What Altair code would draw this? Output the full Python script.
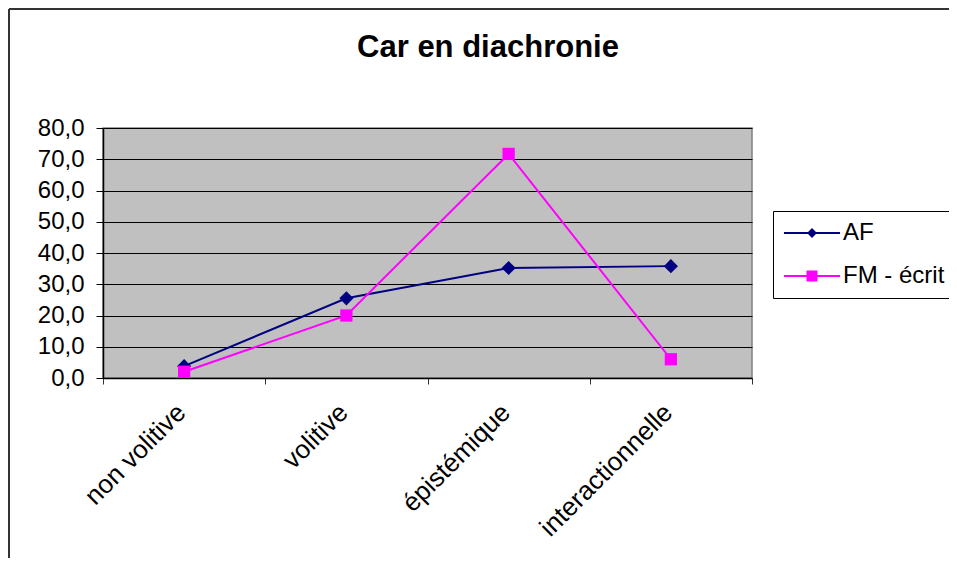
import altair as alt
import pandas as pd

categories = ["non volitive", "volitive", "épistémique", "interactionnelle"]
af_values = [3.8, 25.5, 35.2, 35.8]
fm_values = [2.0, 20.0, 71.7, 6.0]
series_names = ["AF", "FM - écrit"]
series_colors = ["#000080", "#FF00FF"]
y_ticks = [0, 10, 20, 30, 40, 50, 60, 70, 80]
title_text = "Car en diachronie"

rows = []
for c, v in zip(categories, af_values):
    rows.append({"cat": c, "val": v, "series": series_names[0]})
for c, v in zip(categories, fm_values):
    rows.append({"cat": c, "val": v, "series": series_names[1]})
df = pd.DataFrame(rows)

FONT = "Liberation Sans"

x_enc = alt.X(
    "cat:N",
    sort=categories,
    scale=alt.Scale(type="band", domain=categories, paddingInner=0, paddingOuter=0),
    axis=alt.Axis(
        title=None,
        labelAngle=-45,
        labelAlign="right",
        labelBaseline="middle",
        labelFont=FONT,
        labelFontSize=26,
        labelColor="black",
        labelPadding=24,
        labelOffset=-3,
        tickBand="extent",
        tickSize=6,
        tickColor="#333333",
        domainColor="black",
        domainWidth=1.5,
        grid=False,
    ),
)
y_enc = alt.Y(
    "val:Q",
    scale=alt.Scale(domain=[0, 80], nice=False),
    axis=alt.Axis(
        title=None,
        values=y_ticks,
        labelExpr="replace(format(datum.value, '.1f'), '.', ',')",
        labelFont=FONT,
        labelFontSize=24,
        labelColor="black",
        labelPadding=12,
        tickSize=7,
        tickColor="black",
        domainColor="black",
        domainWidth=1.5,
        grid=True,
        gridColor="black",
        gridWidth=1,
    ),
)

color_scale = alt.Scale(domain=series_names, range=series_colors)

# legend symbols: a 2px line with the marker in the middle (filled shapes only)
path_af = "M-2.55,-0.09L2.55,-0.09L2.55,0.09L-2.55,0.09ZM0,-0.45L0.45,0L0,0.45L-0.45,0Z"
path_fm = "M-2.55,-0.09L2.55,-0.09L2.55,0.09L-2.55,0.09ZM-0.5,-0.5L0.5,-0.5L0.5,0.5L-0.5,0.5Z"

legend = alt.Legend(
    title=None,
    orient="none",
    legendX=670,
    legendY=83,
    strokeColor="black",
    fillColor="white",
    padding=10,
    symbolSize=484,
    symbolOffset=17,
    symbolStrokeWidth=0,
    symbolOpacity=1,
    rowPadding=19,
    labelOffset=19,
    labelFont=FONT,
    labelFontSize=24,
    labelColor="black",
)

base = alt.Chart(df)


def series_layers(name, color, shape, size):
    sub = base.transform_filter(alt.datum.series == name)
    ln = sub.mark_line(strokeWidth=2, color=color).encode(x=x_enc, y=y_enc)
    pt = sub.mark_point(filled=True, opacity=1, shape=shape, size=size, color=color).encode(x=x_enc, y=y_enc)
    return ln, pt


ln_af, pt_af = series_layers(series_names[0], series_colors[0], "diamond", 200)
ln_fm, pt_fm = series_layers(series_names[1], series_colors[1], "square", 150)

legend_layer = base.mark_point(filled=True, opacity=0).encode(
    x=x_enc,
    y=y_enc,
    color=alt.Color("series:N", scale=color_scale, legend=legend),
    shape=alt.Shape("series:N", scale=alt.Scale(domain=series_names, range=[path_af, path_fm]), legend=legend),
)

one = alt.Data(values=[{"k": 1}])
frame_left = alt.Chart(one).mark_rule(color="#333333", strokeWidth=2, clip=False).encode(
    x=alt.value(-94), y=alt.value(-119), y2=alt.value(440)
)
frame_top = alt.Chart(one).mark_rule(color="#333333", strokeWidth=2, clip=False).encode(
    x=alt.value(-94), x2=alt.value(860), y=alt.value(-119)
)
title = alt.Chart(one).mark_text(
    text=title_text, font=FONT, fontSize=31, fontWeight="bold", color="black",
    align="center", baseline="alphabetic", clip=False
).encode(x=alt.value(385), y=alt.value(-71))

chart = (
    alt.layer(ln_af, ln_fm, pt_af, pt_fm, legend_layer, frame_left, frame_top, title)
    .properties(
        width=649,
        height=250,
        autosize=alt.AutoSizeParams(type="none"),
        padding={"left": 95, "top": 120, "right": 197, "bottom": 180},
        background="white",
    )
    .configure_view(fill="#C0C0C0", stroke="#808080", strokeWidth=1.5)
)

chart.save("out.html", embed_options={"renderer": "svg", "actions": False})
